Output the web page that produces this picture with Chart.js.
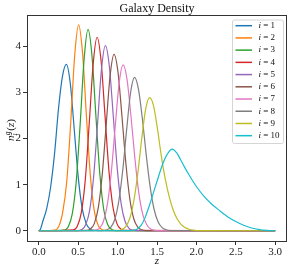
<!DOCTYPE html>
<html>
<head>
<meta charset="utf-8">
<script src="https://cdn.jsdelivr.net/npm/chart.js@4.4.1/dist/chart.umd.min.js"></script>
<style>
html,body{margin:0;padding:0;background:#fff;}
canvas{display:block;}
</style>
</head>
<body>
<canvas id="c" width="292" height="271"></canvas>
<script>
// ---- data ----
const chartTitle = "Galaxy Density";
const xTicks = [0, 0.5, 1.0, 1.5, 2.0, 2.5, 3.0];
const yTicks = [0, 1, 2, 3, 4];
const binLabels = ["1","2","3","4","5","6","7","8","9","10"];
const colors = ["#1f77b4","#ff7f0e","#2ca02c","#d62728","#9467bd","#8c564b","#e377c2","#7f7f7f","#bcbd22","#17becf"];

const z1 = [0, 0.02, 0.05, 0.1, 0.15, 0.2, 0.25, 0.3, 0.35, 0.4, 0.45, 0.5, 0.55, 0.6, 0.65, 0.7, 0.75, 3];
const n1 = [0, 0.03, 0.2, 0.48, 0.95, 1.68, 2.65, 3.35, 3.61, 3.19, 2.19, 1.17, 0.49, 0.16, 0.04, 0.01, 0, 0];
const z2 = [0, 0.205, 0.255, 0.305, 0.355, 0.405, 0.455, 0.505, 0.555, 0.605, 0.655, 0.705, 0.755, 0.805, 0.855, 3];
const n2 = [0, 0.015, 0.1, 0.42, 1.08, 2.35, 3.8, 4.47, 3.86, 2.47, 1.18, 0.42, 0.11, 0.022, 0.003, 0];
const z3 = [0, 0.325, 0.375, 0.425, 0.475, 0.525, 0.575, 0.625, 0.675, 0.725, 0.775, 0.825, 0.875, 0.925, 0.975, 3];
const n3 = [0, 0.015, 0.09, 0.37, 1.07, 2.32, 3.73, 4.37, 3.79, 2.48, 1.22, 0.45, 0.13, 0.027, 0.004, 0];
const z4 = [0, 0.44, 0.49, 0.54, 0.59, 0.64, 0.69, 0.74, 0.79, 0.84, 0.89, 0.94, 0.99, 1.04, 1.09, 3];
const n4 = [0, 0.02, 0.105, 0.4, 1.11, 2.33, 3.62, 4.2, 3.69, 2.5, 1.3, 0.52, 0.16, 0.039, 0.007, 0];
const z5 = [0, 0.495, 0.545, 0.595, 0.645, 0.695, 0.745, 0.795, 0.845, 0.895, 0.945, 0.995, 1.045, 1.095, 1.145, 1.195, 1.245, 3];
const n5 = [0, 0.004, 0.027, 0.13, 0.44, 1.16, 2.31, 3.5, 4.02, 3.57, 2.49, 1.36, 0.59, 0.2, 0.053, 0.011, 0.002, 0];
const z6 = [0, 0.605, 0.655, 0.705, 0.755, 0.805, 0.855, 0.905, 0.955, 1.005, 1.055, 1.105, 1.155, 1.205, 1.255, 1.305, 1.355, 3];
const n6 = [0, 0.007, 0.039, 0.16, 0.5, 1.22, 2.3, 3.37, 3.83, 3.44, 2.49, 1.46, 0.69, 0.26, 0.08, 0.02, 0.004, 0];
const z7 = [0, 0.67, 0.72, 0.77, 0.82, 0.87, 0.92, 0.97, 1.02, 1.07, 1.12, 1.17, 1.22, 1.27, 1.32, 1.37, 1.42, 1.47, 1.52, 3];
const n7 = [0, 0.002, 0.013, 0.056, 0.2, 0.57, 1.27, 2.27, 3.21, 3.6, 3.28, 2.48, 1.56, 0.81, 0.35, 0.13, 0.038, 0.009, 0.002, 0];
const z8 = [0, 0.815, 0.865, 0.915, 0.965, 1.015, 1.065, 1.115, 1.165, 1.215, 1.265, 1.315, 1.365, 1.415, 1.465, 1.515, 1.565, 1.615, 1.665, 3];
const n8 = [0, 0.004, 0.021, 0.08, 0.25, 0.64, 1.31, 2.2, 3.0, 3.33, 3.07, 2.42, 1.62, 0.93, 0.45, 0.19, 0.066, 0.02, 0.005, 0];
const z9 = [0, 1.005, 1.055, 1.105, 1.155, 1.205, 1.255, 1.305, 1.355, 1.405, 1.455, 1.505, 1.555, 1.605, 1.655, 1.705, 1.755, 1.805, 1.855, 1.905, 1.955, 2.005, 3];
const n9 = [0, 0.007, 0.028, 0.096, 0.27, 0.64, 1.23, 1.98, 2.63, 2.89, 2.72, 2.22, 1.62, 1.12, 0.74, 0.45, 0.26, 0.14, 0.07, 0.032, 0.013, 0.004, 0];
const z10 = [0, 1.15, 1.2, 1.25, 1.3, 1.35, 1.4, 1.45, 1.5, 1.55, 1.6, 1.65, 1.69, 1.75, 1.8, 1.85, 1.9, 1.95, 2.0, 2.1, 2.2, 2.3, 2.4, 2.5, 2.6, 2.7, 2.8, 2.9, 3.0];
const n10 = [0, 0.002, 0.01, 0.04, 0.12, 0.29, 0.53, 0.8, 1.07, 1.34, 1.56, 1.71, 1.77, 1.69, 1.54, 1.38, 1.23, 1.09, 0.96, 0.74, 0.57, 0.43, 0.3, 0.2, 0.12, 0.06, 0.025, 0.008, 0];

const zs = [z1, z2, z3, z4, z5, z6, z7, z8, z9, z10];
const ns = [n1, n2, n3, n4, n5, n6, n7, n8, n9, n10];

const SERIF = "'Liberation Serif', 'DejaVu Serif', serif";

const datasets = zs.map((z, i) => ({
  label: "i = " + binLabels[i],
  data: z.map((x, j) => ({x: x, y: ns[i][j]})),
  borderColor: colors[i],
  backgroundColor: colors[i],
  borderWidth: 1.2,
  pointRadius: 0,
  fill: false,
  cubicInterpolationMode: 'monotone',
  order: zs.length - i
}));

const decorPlugin = {
  id: 'decor',
  afterDraw(chart) {
    const ctx = chart.ctx;
    const a = chart.chartArea;
    ctx.save();
    // frame
    ctx.strokeStyle = '#333';
    ctx.lineWidth = 1;
    ctx.strokeRect(a.left + 0.5, a.top + 0.5, a.right - a.left - 1, a.bottom - a.top);
    // title
    ctx.fillStyle = '#111';
    ctx.font = "12px " + SERIF;
    ctx.textAlign = 'center';
    ctx.textBaseline = 'alphabetic';
    ctx.fillText(chartTitle, (a.left + a.right) / 2, 12);
    // x label
    ctx.font = "italic 11px " + SERIF;
    ctx.fillText("z", (a.left + a.right) / 2, 264);
    // y label n_i^g(z)
    ctx.save();
    ctx.translate(14, (a.top + a.bottom) / 2 + 2);
    ctx.rotate(-Math.PI / 2);
    ctx.textAlign = 'left';
    let x0 = -11;
    ctx.font = "italic 11px " + SERIF;
    ctx.fillText("n", x0, 0);
    const nw = ctx.measureText("n").width;
    ctx.font = "italic 7.5px " + SERIF;
    ctx.fillText("g", x0 + nw + 0.3, -4.5);
    ctx.fillText("i", x0 + nw + 0.3, 3);
    const gw = ctx.measureText("g").width;
    let xx = x0 + nw + gw + 1;
    ctx.font = "11px " + SERIF;
    ctx.fillText("(", xx, 0);
    xx += ctx.measureText("(").width;
    ctx.font = "italic 11px " + SERIF;
    ctx.fillText("z", xx, 0);
    xx += ctx.measureText("z").width;
    ctx.font = "11px " + SERIF;
    ctx.fillText(")", xx, 0);
    ctx.restore();
    // legend
    const lx = 232.5, ly = 20, lw = 51, lh = 123.5;
    ctx.beginPath();
    if (ctx.roundRect) ctx.roundRect(lx, ly, lw, lh, 2); else ctx.rect(lx, ly, lw, lh);
    ctx.fillStyle = 'rgba(255,255,255,0.85)';
    ctx.fill();
    ctx.strokeStyle = '#d5d5d5';
    ctx.lineWidth = 1;
    ctx.stroke();
    ctx.textBaseline = 'middle';
    ctx.textAlign = 'left';
    for (let i = 0; i < binLabels.length; i++) {
      const y = 25.7 + 12.22 * i;
      ctx.beginPath();
      ctx.strokeStyle = colors[i];
      ctx.lineWidth = 1.5;
      ctx.moveTo(235.5, y);
      ctx.lineTo(252, y);
      ctx.stroke();
      ctx.fillStyle = '#111';
      ctx.font = "italic 9px " + SERIF;
      ctx.fillText("i", 258.5, y);
      ctx.font = "9px " + SERIF;
      ctx.fillText("=", 263.3, y);
      ctx.fillText(binLabels[i], 270.5, y);
    }
    ctx.restore();
  }
};

const tickFont = {family: SERIF, size: 11};

new Chart(document.getElementById('c').getContext('2d'), {
  type: 'line',
  data: {datasets: datasets},
  options: {
    responsive: false,
    animation: false,
    devicePixelRatio: 1,
    layout: {padding: {left: 0, right: 5, top: 15, bottom: 0}},
    plugins: {legend: {display: false}, title: {display: false}, tooltip: {enabled: false}},
    scales: {
      x: {
        type: 'linear', min: -0.15, max: 3.15,
        afterBuildTicks: s => { s.ticks = xTicks.map(v => ({value: v})); },
        afterFit: s => { s.height = 30; },
        grid: {drawOnChartArea: false, drawTicks: true, tickLength: 4, color: '#333'},
        border: {display: false},
        ticks: {font: tickFont, color: '#222', padding: 1, maxRotation: 0, autoSkip: false,
                callback: v => Number(v).toFixed(1)}
      },
      y: {
        type: 'linear', min: -0.223, max: 4.683,
        afterBuildTicks: s => { s.ticks = yTicks.map(v => ({value: v})); },
        afterFit: s => { s.width = 27; },
        grid: {drawOnChartArea: false, drawTicks: true, tickLength: 4, color: '#333'},
        border: {display: false},
        ticks: {font: tickFont, color: '#222', padding: 2, autoSkip: false,
                callback: v => String(Math.round(v))}
      }
    }
  },
  plugins: [decorPlugin]
});
</script>
</body>
</html>
